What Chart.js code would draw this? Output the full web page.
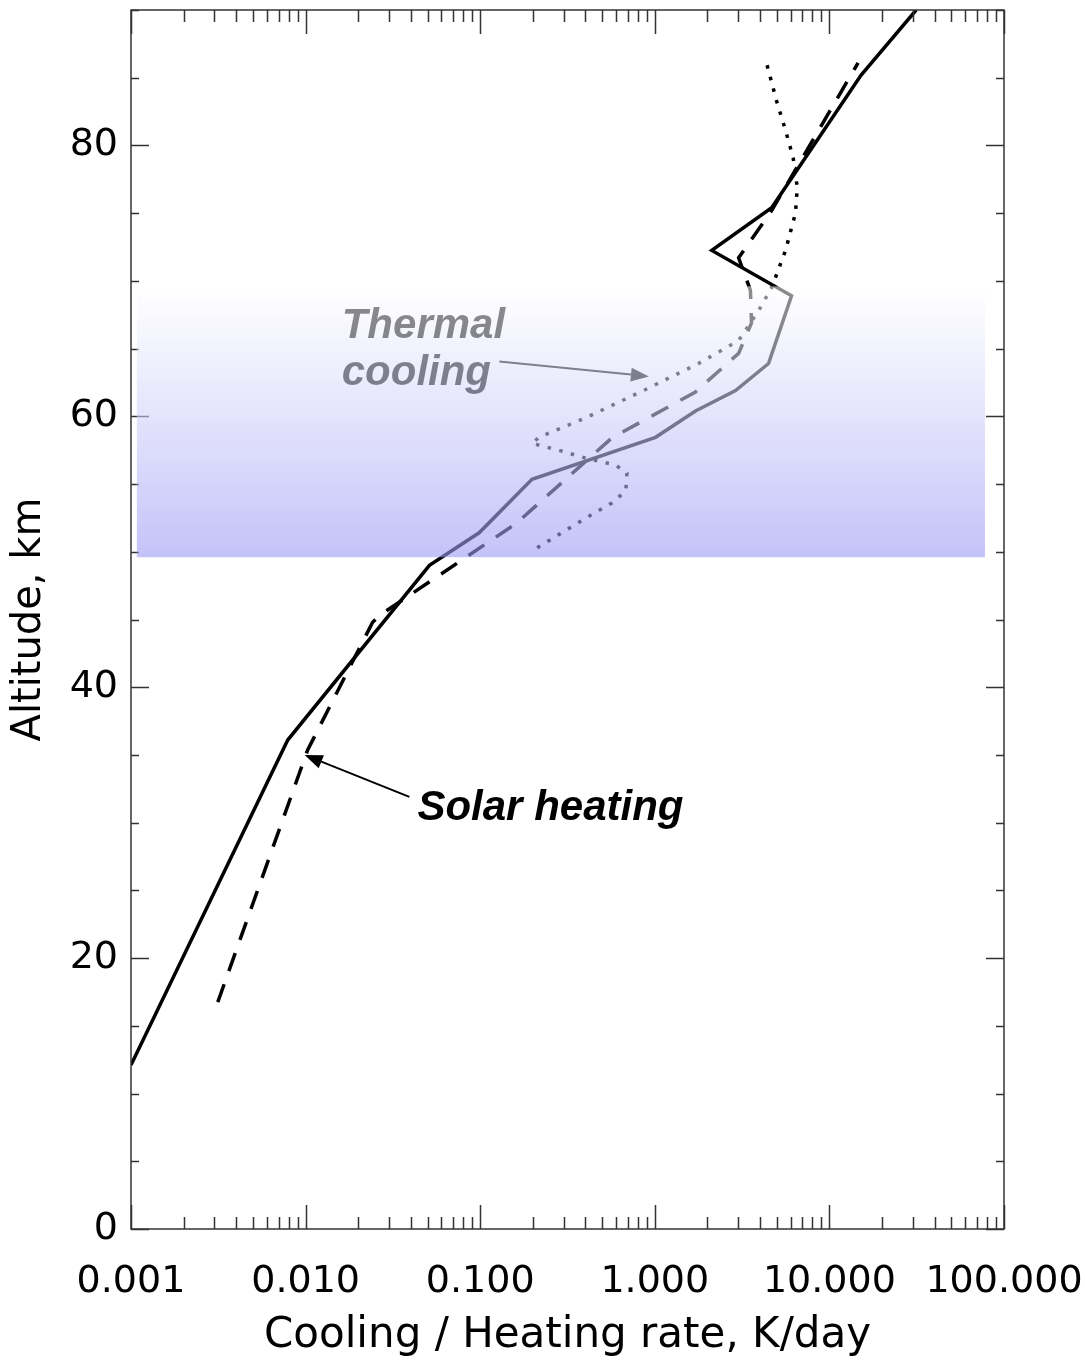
<!DOCTYPE html>
<html>
<head>
<meta charset="utf-8">
<script src="https://cdn.jsdelivr.net/npm/chart.js@4.4.1/dist/chart.umd.min.js"></script>
<style>
  html, body { margin: 0; padding: 0; background: #fff; }
  #wrap { width: 1085px; height: 1361px; }
</style>
</head>
<body>
<div id="wrap"><canvas id="rates" width="1085" height="1361"></canvas></div>
<script>
// solid profile (K/day vs altitude km)
const solidRate = [0.001, 0.0079, 0.0512, 0.0986, 0.198, 1.01, 1.71, 2.90, 4.48, 6.07, 2.12, 4.67, 15.2, 31.4];
const solidAlt  = [12.1, 36.1, 49.0, 51.4, 55.35, 58.45, 60.4, 61.9, 63.9, 68.9, 72.25, 75.4, 85.2, 90];

// dashed profile
const dashRate = [0.00314, 0.01026, 0.0242, 0.0265, 0.161, 0.567, 1.71, 3.02, 3.58, 3.53, 3.02, 4.67, 14.6];
const dashAlt  = [16.75, 35.35, 44.8, 45.3, 52.1, 58.4, 61.8, 64.65, 66.9, 69.3, 71.7, 75.2, 86.1];

// dotted profile
const dotRate = [0.212, 0.404, 0.567, 0.683, 0.692, 0.598, 0.404, 0.282, 0.198, 0.217, 0.404, 0.925, 1.78, 3.02, 3.93, 4.67, 5.61, 6.39, 6.55, 6.2, 5.61, 4.98, 4.37];
const dotAlt  = [50.3, 52.5, 53.6, 54.5, 55.8, 56.4, 56.9, 57.5, 58.0, 58.45, 59.9, 62.1, 63.9, 65.6, 67.8, 69.5, 72.25, 75.0, 76.9, 79.1, 81.1, 83.3, 86.05];

const xMajor = [0.001, 0.01, 0.1, 1, 10, 100];
const yLabels = [0, 20, 40, 60, 80];

// shaded cloud layer (rate range, altitude range)
const bandRate = [0.00108, 77.8];
const bandAlt = [49.6, 69.6];

const labelFont = {family: 'DejaVu Sans', size: 38};

function toPoints(rates, alts) {
    return rates.map((r, i) => ({x: r, y: alts[i]}));
}

function drawArrow(ctx, x0, y0, x1, y1, color) {
    const ang = Math.atan2(y1 - y0, x1 - x0);
    const head = 18, half = 7;
    ctx.strokeStyle = color;
    ctx.fillStyle = color;
    ctx.lineWidth = 2;
    ctx.beginPath();
    ctx.moveTo(x0, y0);
    ctx.lineTo(x1 - head * Math.cos(ang), y1 - head * Math.sin(ang));
    ctx.stroke();
    ctx.beginPath();
    ctx.moveTo(x1, y1);
    ctx.lineTo(x1 - head * Math.cos(ang) + half * Math.sin(ang), y1 - head * Math.sin(ang) - half * Math.cos(ang));
    ctx.lineTo(x1 - head * Math.cos(ang) - half * Math.sin(ang), y1 - head * Math.sin(ang) + half * Math.cos(ang));
    ctx.closePath();
    ctx.fill();
}

const frame = {
    id: 'frame',
    afterDatasetsDraw(chart) {
        const {ctx, chartArea: a, scales: {x, y}} = chart;
        ctx.save();
        // box and inward ticks
        ctx.strokeStyle = '#333';
        ctx.lineWidth = 1.5;
        ctx.strokeRect(a.left, a.top, a.right - a.left, a.bottom - a.top);
        ctx.beginPath();
        for (const d of xMajor) {
            for (let k = 1; k < 10; k++) {
                const v = d * k;
                if (v > x.max * 1.0001) break;
                const px = Math.round(x.getPixelForValue(v)) + 0.5;
                const len = k === 1 ? 24 : 12;
                ctx.moveTo(px, a.bottom); ctx.lineTo(px, a.bottom - len);
                ctx.moveTo(px, a.top); ctx.lineTo(px, a.top + len);
            }
        }
        for (let v = 0; v <= 90; v += 5) {
            const py = Math.round(y.getPixelForValue(v)) + 0.5;
            const len = v % 20 === 0 ? 18 : 8;
            ctx.moveTo(a.left, py); ctx.lineTo(a.left + len, py);
            ctx.moveTo(a.right, py); ctx.lineTo(a.right - len, py);
        }
        ctx.stroke();

        // thermal cooling label (sits under the cloud shading)
        ctx.font = 'italic bold 42px "Liberation Sans", Arial, sans-serif';
        ctx.textBaseline = 'alphabetic';
        ctx.textAlign = 'left';
        ctx.fillStyle = '#000';
        ctx.fillText('Thermal', x.getPixelForValue(0.0161), y.getPixelForValue(65.8));
        ctx.fillText('cooling', x.getPixelForValue(0.0161), y.getPixelForValue(62.3));
        drawArrow(ctx, x.getPixelForValue(0.1286), y.getPixelForValue(64.05),
                  x.getPixelForValue(0.925), y.getPixelForValue(62.95), '#000');

        // cloud layer shading
        const bx0 = x.getPixelForValue(bandRate[0]), bx1 = x.getPixelForValue(bandRate[1]);
        const by0 = y.getPixelForValue(bandAlt[1]), by1 = y.getPixelForValue(bandAlt[0]);
        const grad = ctx.createLinearGradient(0, by0, 0, by1);
        grad.addColorStop(0, 'rgba(255,255,255,0.55)');
        grad.addColorStop(1, 'rgba(155,155,245,0.6)');
        ctx.fillStyle = grad;
        ctx.fillRect(bx0, by0, bx1 - bx0, by1 - by0);

        // solar heating label
        ctx.fillStyle = '#000';
        ctx.fillText('Solar heating', x.getPixelForValue(0.0437), y.getPixelForValue(30.2));
        drawArrow(ctx, x.getPixelForValue(0.0393), y.getPixelForValue(31.9),
                  x.getPixelForValue(0.00987), y.getPixelForValue(35.0), '#000');
        ctx.restore();
    }
};

new Chart(document.getElementById('rates'), {
    type: 'scatter',
    data: {
        datasets: [
            {data: toPoints(solidRate, solidAlt), showLine: true, borderColor: '#000', borderWidth: 3.5, pointRadius: 0},
            {data: toPoints(dashRate, dashAlt), showLine: true, borderColor: '#000', borderWidth: 3.5, borderDash: [19, 14], pointRadius: 0},
            {data: toPoints(dotRate, dotAlt), showLine: true, borderColor: '#000', borderWidth: 3.5, borderDash: [3.5, 8.5], pointRadius: 0}
        ]
    },
    options: {
        responsive: false,
        animation: false,
        devicePixelRatio: 1,
        layout: {padding: {top: 10, right: 81, left: 0, bottom: 0}},
        plugins: {legend: {display: false}, tooltip: {enabled: false}},
        scales: {
            x: {
                type: 'logarithmic', min: 0.001, max: 100,
                afterBuildTicks: s => { s.ticks = xMajor.map(v => ({value: v})); },
                afterFit: s => { s.height = 132; s.paddingLeft = 0; s.paddingRight = 0; },
                grid: {display: false, drawTicks: false},
                border: {display: false},
                ticks: {callback: v => Number(v).toFixed(3), font: labelFont, color: '#000', padding: 30, maxRotation: 0, autoSkip: false},
                title: {display: true, text: 'Cooling / Heating rate, K/day', font: {family: 'DejaVu Sans', size: 42}, color: '#000', padding: {top: 0, bottom: 0}}
            },
            y: {
                min: 0, max: 90,
                afterBuildTicks: s => { s.ticks = yLabels.map(v => ({value: v})); },
                afterFit: s => { s.width = 131; s.paddingTop = 0; s.paddingBottom = 0; },
                grid: {display: false, drawTicks: false},
                border: {display: false},
                ticks: {font: labelFont, color: '#000', padding: 13},
                title: {display: true, text: 'Altitude, km', font: {family: 'DejaVu Sans', size: 40}, color: '#000', padding: {top: 6, bottom: 0}}
            }
        }
    },
    plugins: [frame]
});
</script>
</body>
</html>
